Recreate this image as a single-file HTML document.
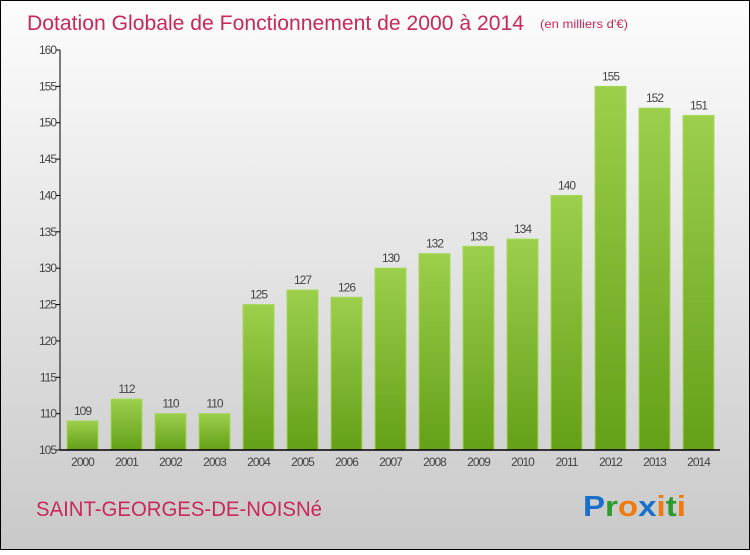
<!DOCTYPE html>
<html><head><meta charset="utf-8"><style>
body{margin:0}
svg text{font-family:"Liberation Sans",sans-serif}
</style></head><body>
<svg width="750" height="550" xmlns="http://www.w3.org/2000/svg">
<defs>
<linearGradient id="bg" x1="0" y1="0" x2="0" y2="1"><stop offset="0" stop-color="#fdfdfd"/><stop offset="1" stop-color="#c9c9c9"/></linearGradient>
<linearGradient id="bar" x1="0" y1="0" x2="0" y2="1"><stop offset="0" stop-color="#9ccf4c"/><stop offset="1" stop-color="#64a018"/></linearGradient>
</defs>
<rect x="0.5" y="0.5" width="749" height="549" fill="url(#bg)" stroke="#000"/>
<text x="27" y="30" font-size="21" textLength="497" lengthAdjust="spacingAndGlyphs" fill="#c8285a">Dotation Globale de Fonctionnement de 2000 à 2014</text>
<text x="540" y="28" font-size="12" fill="#c8285a" textLength="88" lengthAdjust="spacingAndGlyphs">(en milliers d'€)</text>
<g id="plot"></g>
<text x="36" y="516" font-size="21" textLength="286" lengthAdjust="spacingAndGlyphs" fill="#c8285a">SAINT-GEORGES-DE-NOISNé</text>
<text x="583" y="516" font-size="29" font-weight="bold" textLength="103" lengthAdjust="spacingAndGlyphs"><tspan fill="#1a6fc9">P</tspan><tspan fill="#2a9a2a">r</tspan><tspan fill="#f07a10">o</tspan><tspan fill="#1a6fc9">x</tspan><tspan fill="#f07a10">i</tspan><tspan fill="#2a9a2a">t</tspan><tspan fill="#f07a10">i</tspan></text>
</svg>
<script>
const years=["2000","2001","2002","2003","2004","2005","2006","2007","2008","2009","2010","2011","2012","2013","2014"];
const values=[109,112,110,110,125,127,126,130,132,133,134,140,155,152,151];
const yTicks=[105,110,115,120,125,130,135,140,145,150,155,160];
const NS="http://www.w3.org/2000/svg";
const g=document.getElementById('plot');
const y=v=>450-(v-105)*400/55;
const x=i=>82.5+i*44;
function mk(t,a,txt){const e=document.createElementNS(NS,t);for(const k in a)e.setAttribute(k,a[k]);if(txt!==undefined)e.textContent=txt;g.appendChild(e);return e;}
yTicks.forEach(v=>{
const l=mk('line',{x1:56,x2:60,y1:y(v),y2:y(v),stroke:'#000'});


const t=mk('text',{x:56,y:y(v)+4,'text-anchor':'end','font-size':12,fill:'#444','letter-spacing':'-1'},v);


});
values.forEach((v,i)=>{
const r=mk('rect',{x:x(i)-15.5,y:y(v),width:31,height:450-y(v),fill:'url(#bar)',stroke:'#a6d85a','stroke-width':1});


const t=mk('text',{x:x(i),y:y(v)-6,'text-anchor':'middle','font-size':12,fill:'#444','letter-spacing':'-1'},v);


const c=mk('text',{x:x(i),y:466,'text-anchor':'middle','font-size':12,fill:'#444','letter-spacing':'-1'},years[i]);


});
const ya=mk('line',{x1:60,x2:60,y1:50,y2:450,stroke:'#000'});


const xa=mk('line',{x1:60,x2:720,y1:450,y2:450,stroke:'#000','stroke-width':1.5});


</script>
</body></html>
